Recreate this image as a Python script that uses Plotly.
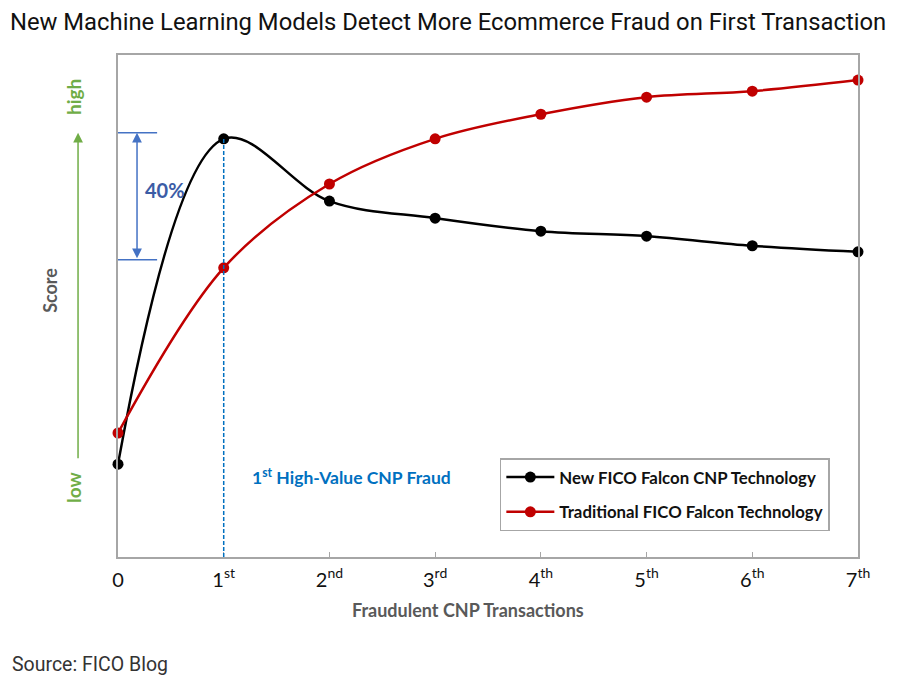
import plotly.graph_objects as go

# x positions (number of fraudulent CNP transactions) and their labels
steps = [0, 1, 2, 3, 4, 5, 6, 7]
step_labels = ["0", "1<sup>st</sup>", "2<sup>nd</sup>", "3<sup>rd</sup>", "4<sup>th</sup>",
               "5<sup>th</sup>", "6<sup>th</sup>", "7<sup>th</sup>"]

# scores (0 = low, 100 = high)
new_fico = [18.5, 83.3, 70.9, 67.5, 64.9, 63.9, 62.0, 60.8]
traditional = [24.7, 57.6, 74.3, 83.3, 88.2, 91.6, 92.8, 95.0]

# 40% gap bracket at the first fraud
gap_top = 84.5
gap_bottom = 59.2

fig = go.Figure()
fig.add_trace(go.Scatter(
    x=steps, y=new_fico, name="<b>New FICO Falcon CNP Technology</b>", legendgroup="a",
    mode="lines+markers", line=dict(color="#000000", width=2.5, shape="spline", smoothing=1.0),
    marker=dict(color="#000000", size=11), cliponaxis=False))
fig.add_trace(go.Scatter(
    x=steps, y=traditional, name="<b>Traditional FICO Falcon Technology</b>", legendgroup="b",
    mode="lines+markers", line=dict(color="#C00000", width=2.5, shape="spline", smoothing=1.0),
    marker=dict(color="#C00000", size=11), cliponaxis=False))

# dashed line at the 1st high-value fraud
fig.add_shape(type="line", x0=1, x1=1, y0=0, y1=new_fico[1],
              line=dict(color="#0070C0", width=1.5, dash="4px,2px"))
fig.add_annotation(x=1.25, y=16.1, xanchor="left", yanchor="middle", showarrow=False,
                   text="<b>1<sup>st</sup> High-Value CNP Fraud</b>",
                   font=dict(family="Lato", size=17.5, color="#0070C0"))

# 40% bracket
for yy in (gap_top, gap_bottom):
    fig.add_shape(type="line", x0=0, x1=0.37, y0=yy, y1=yy,
                  line=dict(color="#4472C4", width=1.5))
fig.add_annotation(x=0.18, y=gap_top, ax=0.18, ay=gap_bottom, axref="x", ayref="y",
                   text="", showarrow=True, arrowhead=2, arrowside="end+start",
                   arrowsize=1.3, arrowwidth=1.5, arrowcolor="#4472C4")
fig.add_annotation(x=0.235, y=73.1, xanchor="left", yanchor="middle", showarrow=False,
                   text="<b>40%</b>",
                   font=dict(family="Lato", size=20, color="#3B5CA6"))

# left side score indicator
fig.add_annotation(x=-0.054, y=0.845, xref="paper", yref="paper", ax=0, ay=327,
                   text="", showarrow=True, arrowhead=2, arrowsize=1.3,
                   arrowwidth=1.5, arrowcolor="#70AD47")
fig.add_annotation(x=-0.061, y=0.916, xref="paper", yref="paper", showarrow=False,
                   xanchor="center", yanchor="middle",
                   text="<b>high</b>", textangle=-90,
                   font=dict(family="Lato", size=19, color="#70AD47"))
fig.add_annotation(x=-0.061, y=0.139, xref="paper", yref="paper", showarrow=False,
                   xanchor="center", yanchor="middle",
                   text="<b>low</b>", textangle=-90,
                   font=dict(family="Lato", size=19, color="#70AD47"))
fig.add_annotation(x=-0.092, y=0.532, xref="paper", yref="paper", showarrow=False,
                   xanchor="center", yanchor="middle",
                   text="<b>Score</b>", textangle=-90,
                   font=dict(family="Lato", size=18, color="#595959"))

# x axis title, sits a little left of the plot centre in the original
fig.add_annotation(x=0.473, y=-0.105, xref="paper", yref="paper", xanchor="center",
                   yanchor="middle", showarrow=False,
                   text="<b>Fraudulent CNP Transactions</b>",
                   font=dict(family="Lato", size=18, color="#595959"))

fig.add_annotation(x=-0.146, y=-0.215, xref="paper", yref="paper", xanchor="left",
                   yanchor="middle", showarrow=False, text="Source: FICO Blog",
                   font=dict(family="Roboto", size=19.5, color="#333333"))

fig.update_layout(
    width=901, height=686,
    margin=dict(l=110, r=51, t=47, b=137),
    paper_bgcolor="white", plot_bgcolor="white",
    title=dict(text="New Machine Learning Models Detect More Ecommerce Fraud on First Transaction",
               x=0.0022, xanchor="left", y=0.9796, yanchor="middle",
               font=dict(family="Roboto", size=23.8, color="#111111")),
    legend=dict(x=0.516, y=0.197, xanchor="left", yanchor="top",
                bordercolor="#A6A6A6", borderwidth=1.5, bgcolor="white",
                font=dict(family="Lato", size=16.8, color="#111111"),
                itemwidth=48, tracegroupgap=10),
    showlegend=True,
)
fig.update_xaxes(range=[0, 7], tickvals=steps, ticktext=step_labels,
                 showgrid=False, zeroline=False, showline=True, mirror=True,
                 linecolor="#A6A6A6", linewidth=1.5, ticks="inside", ticklen=5,
                 tickcolor="#A6A6A6", ticklabelstandoff=4,
                 tickfont=dict(family="Lato", size=20, color="#111111"))
fig.update_yaxes(range=[0, 100], showticklabels=False, showgrid=False, zeroline=False,
                 showline=True, mirror=True, linecolor="#A6A6A6", linewidth=1.5, ticks="")

fig.write_html("out.html")
